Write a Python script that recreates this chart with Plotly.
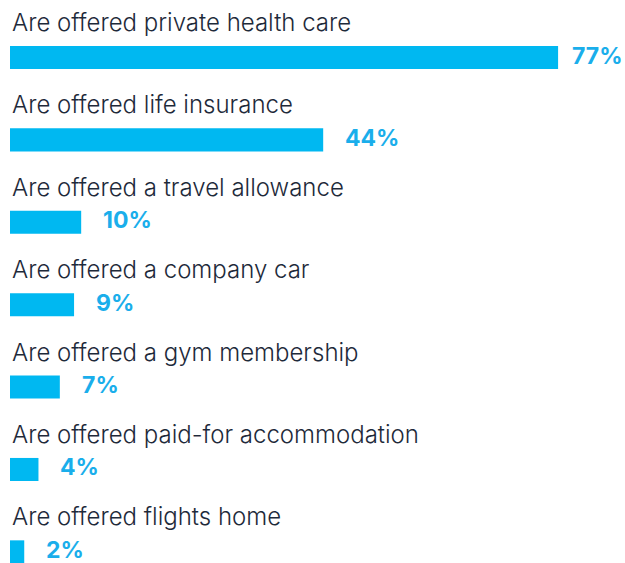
import plotly.graph_objects as go

categories = [
    "Are offered private health care",
    "Are offered life insurance",
    "Are offered a travel allowance",
    "Are offered a company car",
    "Are offered a gym membership",
    "Are offered paid-for accommodation",
    "Are offered flights home",
]
values = [77, 44, 10, 9, 7, 4, 2]

BAR_COLOR = "#00B8F1"
VALUE_COLOR = "#1AAEEB"
LABEL_COLOR = "#1E2A3A"
LABEL_FONT = "Inter, Liberation Sans, Arial, sans-serif"
VALUE_FONT = "Inter, Liberation Sans, Arial, sans-serif"

rows = list(range(len(categories)))

fig = go.Figure(
    go.Bar(
        x=values,
        y=rows,
        orientation="h",
        width=0.28,
        marker=dict(color=BAR_COLOR, line=dict(width=0)),
        hoverinfo="skip",
    )
)

annotations = []
for i, (cat, val) in enumerate(zip(categories, values)):
    # category caption above each bar
    annotations.append(dict(
        x=0, y=i, xref="x", yref="y", xanchor="left", yanchor="middle",
        yshift=35, xshift=0, showarrow=False, text=cat,
        font=dict(family=LABEL_FONT, size=24, color=LABEL_COLOR, weight=300),
    ))
    # percentage value to the right of each bar
    annotations.append(dict(
        x=val, y=i, xref="x", yref="y", xanchor="left", yanchor="middle",
        xshift=12 if val > 70 else 20, yshift=2, showarrow=False,
        text=f"{val}%",
        font=dict(family=VALUE_FONT, size=23, color=VALUE_COLOR, weight=700),
    ))

fig.update_layout(
    width=625, height=563,
    margin=dict(l=10, r=0, t=0, b=0),
    paper_bgcolor="white", plot_bgcolor="white",
    showlegend=False,
    annotations=annotations,
    xaxis=dict(range=[0, 86.4], visible=False, fixedrange=True),
    yaxis=dict(range=[6.135, -0.698], visible=False, fixedrange=True),
)

fig.write_html("out.html")
